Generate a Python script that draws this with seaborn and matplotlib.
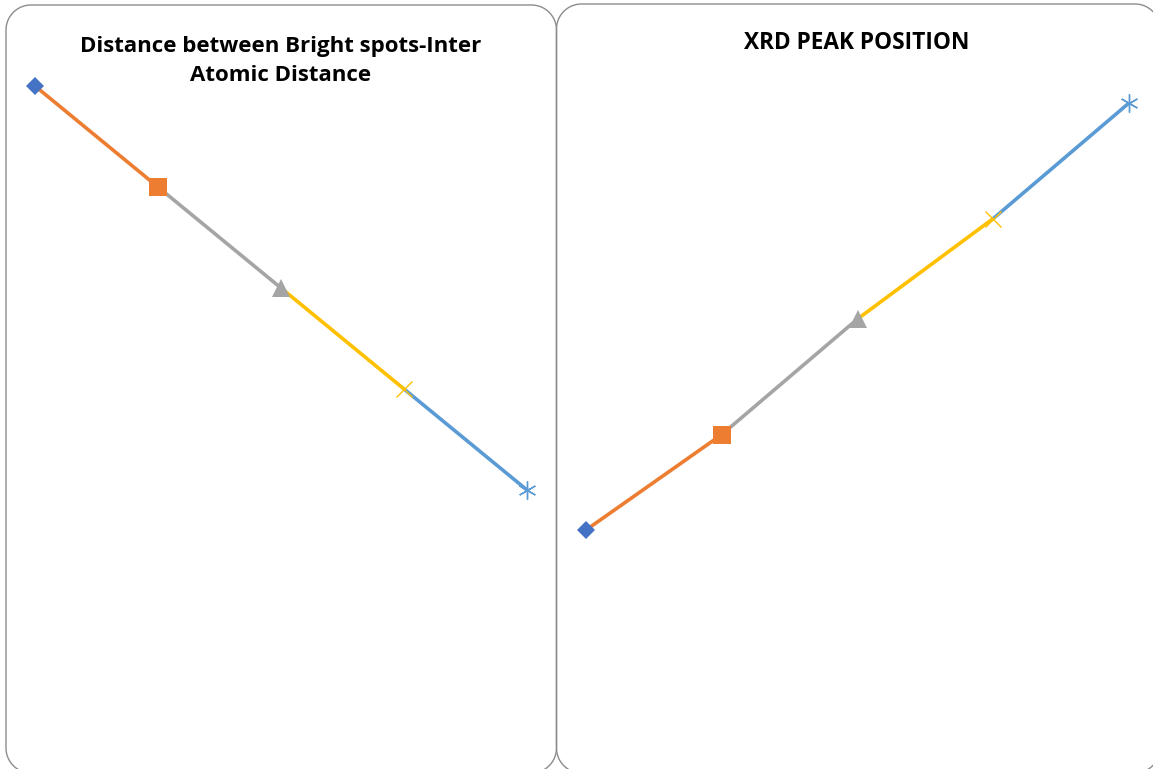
import matplotlib
matplotlib.use("Agg")
import matplotlib.pyplot as plt
from matplotlib.patches import Polygon
import seaborn as sns
import pandas as pd
import numpy as np

# Sample order (five samples per chart)
samples = [1, 2, 3, 4, 5]

# Inter-atomic distance from bright spots (decreasing)
distance_values = [3.60, 3.50, 3.40, 3.30, 3.20]

# XRD peak positions (increasing)
xrd_values = [28.40, 28.59, 28.82, 29.02, 29.25]

titles = ["Distance between Bright spots-Inter\nAtomic Distance", "XRD PEAK POSITION"]

point_colors = ["#4472C4", "#ED7D31", "#A5A5A5", "#FFC000", "#5B9BD5"]
point_markers = ["D", "s", "^", "x", (6, 2, 0)]
marker_sizes = [9.5, 12.5, 12.5, 12, 13]

W, H = 1153, 769
sns.set_theme(style="white")
plt.rcParams["font.family"] = ["Open Sans", "DejaVu Sans"]

fig = plt.figure(figsize=(W / 100, H / 100), dpi=100)
fig.patch.set_facecolor("white")


def fig_box(px_left, px_top, px_right, px_bottom):
    return [px_left / W, 1 - px_bottom / H, (px_right - px_left) / W, (px_bottom - px_top) / H]


def rounded_outline(l, t, r, b, rad, n=24):
    """Polyline of a rounded rectangle given in pixel coordinates (y down)."""
    pts = []
    corners = [(r - rad, t + rad, -90, 0), (r - rad, b - rad, 0, 90),
               (l + rad, b - rad, 90, 180), (l + rad, t + rad, 180, 270)]
    for cx, cy, a0, a1 in corners:
        ang = np.radians(np.linspace(a0, a1, n))
        pts.extend(zip(cx + rad * np.cos(ang), cy + rad * np.sin(ang)))
    pts = np.array(pts)
    # convert to inches from the bottom-left corner
    return np.column_stack([pts[:, 0] / 100, (H - pts[:, 1]) / 100])


# rounded chart-area frames
for (l, t, r, b) in [(6, 5, 556.5, 773), (556.5, 4, 1160, 773)]:
    frame = Polygon(rounded_outline(l, t, r, b, 25), closed=True,
                    transform=fig.dpi_scale_trans, facecolor="none",
                    edgecolor="#8C8C8C", linewidth=1.0, zorder=0)
    fig.add_artist(frame)


def draw_panel(rect, values, ylim):
    ax = fig.add_axes(rect)
    ax.set_xlim(0, len(values) - 1)
    ax.set_ylim(*ylim)
    ax.axis("off")
    # each segment takes the colour of the point it leads to
    rows = []
    for i in range(1, len(values)):
        rows.append({"seg": i, "x": i - 1, "y": values[i - 1]})
        rows.append({"seg": i, "x": i, "y": values[i]})
    seg_df = pd.DataFrame(rows)
    sns.lineplot(data=seg_df, x="x", y="y", hue="seg", units="seg", estimator=None,
                 palette={i: point_colors[i] for i in range(1, len(values))},
                 linewidth=2.6, legend=False, ax=ax, sort=False)
    for ln in ax.lines:
        ln.set_clip_on(False)
        ln.set_solid_capstyle("butt")
    for i, v in enumerate(values):
        m = point_markers[i]
        line_art = m == "x" or isinstance(m, tuple)
        ax.plot([i], [v], marker=m, markersize=marker_sizes[i], linestyle="none",
                color=point_colors[i], markeredgewidth=1.0 if line_art else 0,
                clip_on=False, zorder=5)
    return ax


draw_panel(fig_box(35, 86, 527, 490), distance_values, (distance_values[-1], distance_values[0]))
draw_panel(fig_box(586, 103, 1129, 530), xrd_values, (xrd_values[0], xrd_values[-1]))

fig.text(281 / W, 1 - 61 / H, titles[0], ha="center", va="center", fontsize=16,
         fontweight="bold", color="black", linespacing=1.5)
fig.text(857 / W, 1 - 43 / H, titles[1], ha="center", va="center", fontsize=16.3,
         fontweight="bold", color="black")

fig.savefig("out.png", dpi=100, facecolor="white")
